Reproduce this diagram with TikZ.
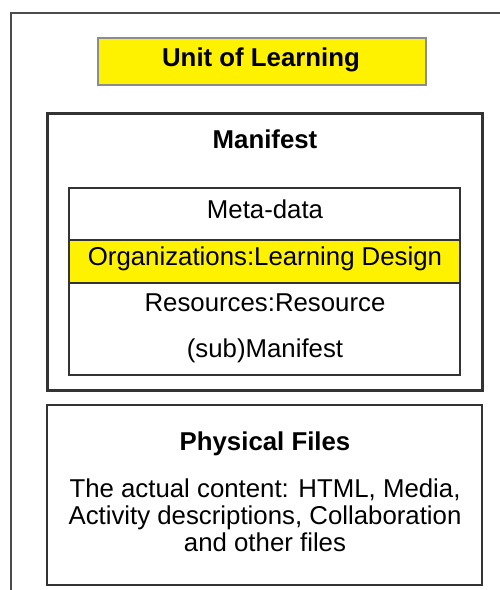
\documentclass[tikz,border=0pt]{standalone}
\usepackage{fontspec}
\setmainfont{Liberation Sans}
\begin{document}
\begin{tikzpicture}
        [x=1pt, y=-1pt, every node/.style={inner sep=0, outer sep=0, font=\fontsize{25.8}{27}\selectfont},
         bold/.style={font=\fontsize{25.8}{27}\selectfont\bfseries},
         box/.style={draw=black!80, line width=#1}]

        \clip (0,0) rectangle (500,590);
        \fill[white] (0,0) rectangle (500,590);

        \node[box=2pt, draw=black!70, minimum width=520, minimum height=600, anchor=north west] (outer) at (11,13) {};

        \node[box=1.5pt, draw=black!45, fill=yellow, minimum width=328, minimum height=47] (unit) at (262,61.5) {};
        \node[bold, anchor=base] (unitlbl) at (261,66) {Unit of Learning};

        \node[box=3pt, minimum width=435, minimum height=277] (manifest) at (264.5,251.5) {};
        \node[bold, anchor=base] (manilbl) at (265,148) {Manifest};

        \node[box=1.5pt, minimum width=391, minimum height=187] (list) at (264.5,281.5) {};
        \node[box=1.5pt, fill=yellow, minimum width=391, minimum height=43] (orgrow) at (264.5,261.5) {};
        \node[anchor=base] (meta) at (265,218) {Meta-data};
        \node[anchor=base] (org) at (265,265) {Organizations:Learning Design};
        \node[anchor=base] (res) at (265,311) {Resources:Resource};
        \node[anchor=base] (sub) at (265,357) {(sub)Manifest};

        \node[box=2.5pt, minimum width=435, minimum height=180] (files) at (264.5,495) {};
        \node[bold, anchor=base] (fileslbl) at (265,450) {Physical Files};
        \node[anchor=north, align=center] (content) at (265,478.5)
          {The actual content: HTML, Media,\\Activity descriptions, Collaboration\\and other files};
      \end{tikzpicture}
\end{document}
